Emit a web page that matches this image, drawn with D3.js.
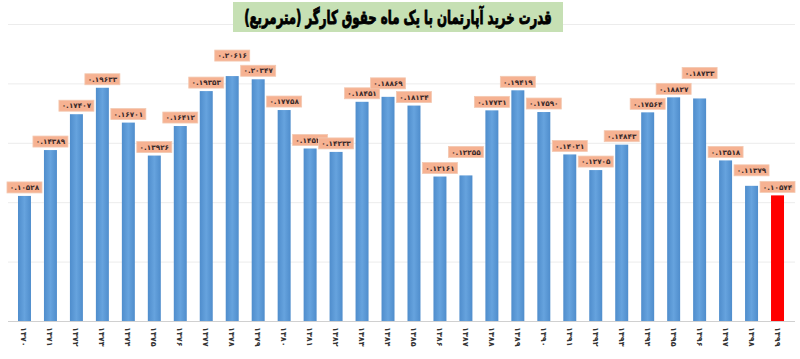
<!DOCTYPE html>
<html><head><meta charset="utf-8">
<script src="https://cdn.jsdelivr.net/npm/d3@7/dist/d3.min.js"></script>
<style>body{margin:0;background:#fff}svg{display:block}</style>
</head><body>
<svg id="c" width="800" height="359"></svg>
<script>
const years = ["۱۳۷۰","۱۳۷۱","۱۳۷۲","۱۳۷۳","۱۳۷۴","۱۳۷۵","۱۳۷۶","۱۳۷۷","۱۳۷۸","۱۳۷۹",
               "۱۳۸۰","۱۳۸۱","۱۳۸۲","۱۳۸۳","۱۳۸۴","۱۳۸۵","۱۳۸۶","۱۳۸۷","۱۳۸۸","۱۳۸۹",
               "۱۳۹۰","۱۳۹۱","۱۳۹۲","۱۳۹۳","۱۳۹۴","۱۳۹۵","۱۳۹۶","۱۳۹۷","۱۳۹۸","۱۳۹۹"];
const values = [0.10528,0.14389,0.17407,0.19633,0.16701,0.13926,0.16412,0.19353,0.20616,0.20347,
                0.17758,0.14521,0.14233,0.18451,0.18869,0.18134,0.12161,0.12255,0.17731,0.19419,
                0.17590,0.14021,0.12705,0.14843,0.17564,0.18827,0.18733,0.13518,0.11379,0.10574];
const highlight = ["۱۳۹۹"];
const yTicks = [0,0.05,0.10,0.15,0.20,0.25];
const title = "قدرت خرید آپارتمان با یک ماه حقوق کارگر (مترمربع)";

// layout: extra lift (px) of some value labels, as in the reference, to avoid collisions
const labelLift = {"۱۳۷۸":12,"۱۳۸۴":5,"۱۳۸۷":15,"۱۳۹۶":17,"۱۳۹۸":7};

const toFa = s => s.replace(/\d/g, d => "۰۱۲۳۴۵۶۷۸۹"[d]);
const fmt = v => toFa(v.toFixed(5));

const svg = d3.select("#c");
const x = d3.scaleBand().domain(years).range([11.5, 790.5]).paddingInner(0.5).paddingOuter(0.25);
const y = d3.scaleLinear().domain([0,0.25]).range([321,24]);

const defs = svg.append("defs");
const g1 = defs.append("linearGradient").attr("id","gb").attr("x1","0").attr("x2","1").attr("y1","0").attr("y2","0");
g1.append("stop").attr("offset","0").attr("stop-color","#4f8dcc");
g1.append("stop").attr("offset","0.5").attr("stop-color","#66a3de");
g1.append("stop").attr("offset","1").attr("stop-color","#4f8dcc");

// gridlines
svg.append("g").selectAll("line").data(yTicks).join("line")
  .attr("x1",8).attr("x2",795)
  .attr("y1",d=>y(d)+0.5).attr("y2",d=>y(d)+0.5)
  .attr("stroke",d=>d===0?"#d0d0d0":"#ececec").attr("stroke-width",1);

// bars
svg.append("g").selectAll("rect").data(values).join("rect")
  .attr("x",(d,i)=>x(years[i]))
  .attr("width",x.bandwidth())
  .attr("y",d=>y(d))
  .attr("height",d=>y(0)-y(d))
  .attr("fill",(d,i)=>highlight.includes(years[i])?"#ff0000":"url(#gb)");

// value labels
const lab = svg.append("g").selectAll("g").data(values).join("g")
  .attr("transform",(d,i)=>`translate(${x(years[i])+x.bandwidth()/2},${y(d)-3-(labelLift[years[i]]||0)})`);
lab.append("rect").attr("x",-17.5).attr("y",-11).attr("width",35).attr("height",11)
  .attr("fill","#f6b292").attr("stroke","#f3c9b2").attr("stroke-width",0.8);
lab.append("text").attr("y",-2.8).attr("text-anchor","middle")
  .attr("font-family","DejaVu Sans").attr("font-weight","bold").attr("font-size",7.3)
  .attr("fill","#3a2a2a").text(d=>fmt(d));

// x-axis labels
svg.append("g").selectAll("text").data(years).join("text")
  .attr("transform",d=>`translate(${x(d)+x.bandwidth()/2-3},327) rotate(90)`)
  .attr("font-family","DejaVu Sans").attr("font-weight","bold").attr("font-size",8)
  .attr("fill","#333").attr("text-anchor","start").text(d=>d);

// title
svg.append("rect").attr("x",233).attr("y",2).attr("width",330).attr("height",30).attr("fill","#c6e0b4");
svg.append("text").attr("transform","translate(398,24) scale(0.62,1)").attr("text-anchor","middle")
  .attr("font-family","DejaVu Sans").attr("font-weight","bold").attr("font-size",19)
  .attr("fill","#000").attr("stroke","#000").attr("stroke-width",0.9).text(title);
</script>
</body></html>
